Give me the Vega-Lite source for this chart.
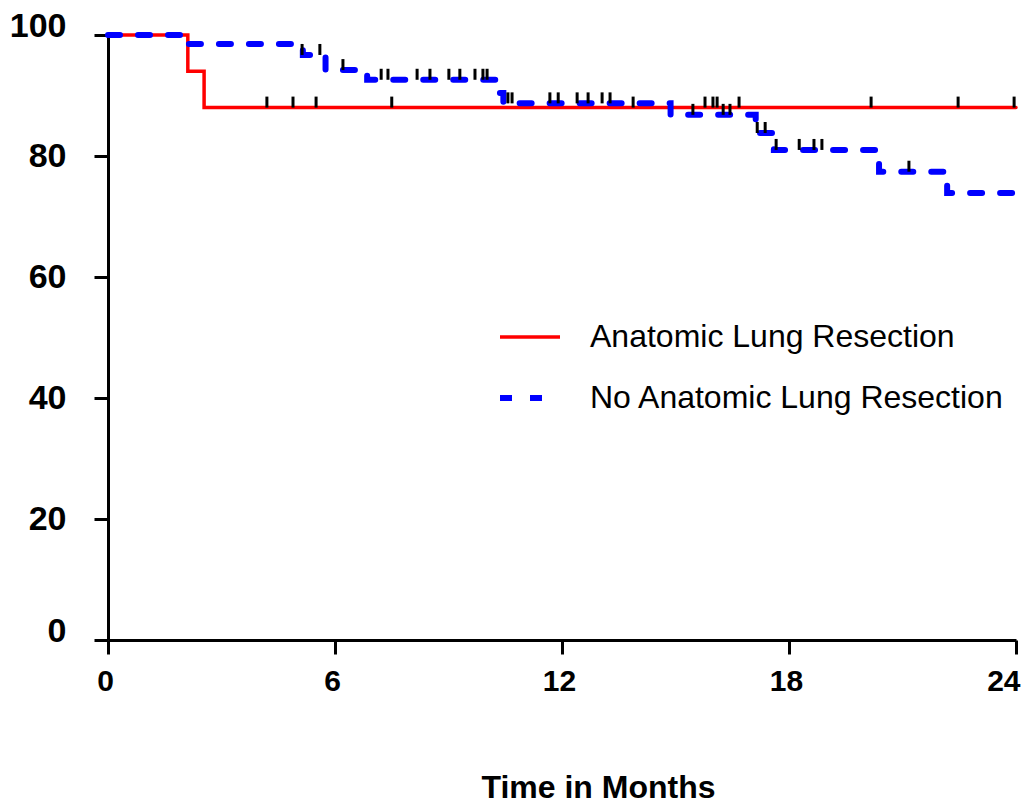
{
  "$schema": "https://vega.github.io/schema/vega-lite/v6.json",
  "autosize": {"type": "none"},
  "padding": {"left": 108, "top": 35, "right": 13, "bottom": 164},
  "width": 908,
  "height": 605,
  "background": "white",
  "config": {
    "view": {"stroke": null},
    "font": "Liberation Sans",
    "axis": {
      "grid": false,
      "domainColor": "black",
      "domainWidth": 3,
      "tickColor": "black",
      "tickWidth": 3,
      "tickSize": 14,
      "labelFont": "Liberation Sans",
      "labelFontWeight": "bold",
      "labelColor": "black",
      "labelFlush": false,
      "titleFont": "Liberation Sans",
      "titleColor": "black"
    },
    "legend": {
      "labelLimit": 0
    }
  },
  "datasets": {
    "curves": [
      {"group": "Anatomic Lung Resection", "month": 0, "survival": 100},
      {"group": "Anatomic Lung Resection", "month": 2.11, "survival": 94.0},
      {"group": "Anatomic Lung Resection", "month": 2.54, "survival": 88.0},
      {"group": "Anatomic Lung Resection", "month": 24, "survival": 88.0},
      {"group": "No Anatomic Lung Resection", "month": 0, "survival": 100},
      {"group": "No Anatomic Lung Resection", "month": 2.11, "survival": 98.5},
      {"group": "No Anatomic Lung Resection", "month": 5.15, "survival": 96.7},
      {"group": "No Anatomic Lung Resection", "month": 5.75, "survival": 94.2},
      {"group": "No Anatomic Lung Resection", "month": 6.85, "survival": 92.6},
      {"group": "No Anatomic Lung Resection", "month": 10.28, "survival": 90.4},
      {"group": "No Anatomic Lung Resection", "month": 10.45, "survival": 88.7},
      {"group": "No Anatomic Lung Resection", "month": 14.87, "survival": 86.8},
      {"group": "No Anatomic Lung Resection", "month": 17.12, "survival": 83.8},
      {"group": "No Anatomic Lung Resection", "month": 17.6, "survival": 81.0},
      {"group": "No Anatomic Lung Resection", "month": 20.38, "survival": 77.4},
      {"group": "No Anatomic Lung Resection", "month": 22.18, "survival": 73.9},
      {"group": "No Anatomic Lung Resection", "month": 24, "survival": 73.9}
    ],
    "censored": [
      {"group": "Anatomic Lung Resection", "month": 4.2, "survival": 88.0},
      {"group": "Anatomic Lung Resection", "month": 4.89, "survival": 88.0},
      {"group": "Anatomic Lung Resection", "month": 5.5, "survival": 88.0},
      {"group": "Anatomic Lung Resection", "month": 7.5, "survival": 88.0},
      {"group": "Anatomic Lung Resection", "month": 13.88, "survival": 88.0},
      {"group": "Anatomic Lung Resection", "month": 15.78, "survival": 88.0},
      {"group": "Anatomic Lung Resection", "month": 15.99, "survival": 88.0},
      {"group": "Anatomic Lung Resection", "month": 16.1, "survival": 88.0},
      {"group": "Anatomic Lung Resection", "month": 16.68, "survival": 88.0},
      {"group": "Anatomic Lung Resection", "month": 20.17, "survival": 88.0},
      {"group": "Anatomic Lung Resection", "month": 22.47, "survival": 88.0},
      {"group": "Anatomic Lung Resection", "month": 23.95, "survival": 88.0},
      {"group": "No Anatomic Lung Resection", "month": 5.13, "survival": 96.7},
      {"group": "No Anatomic Lung Resection", "month": 5.6, "survival": 96.7},
      {"group": "No Anatomic Lung Resection", "month": 6.21, "survival": 94.2},
      {"group": "No Anatomic Lung Resection", "month": 7.22, "survival": 92.6},
      {"group": "No Anatomic Lung Resection", "month": 7.4, "survival": 92.6},
      {"group": "No Anatomic Lung Resection", "month": 8.17, "survival": 92.6},
      {"group": "No Anatomic Lung Resection", "month": 8.51, "survival": 92.6},
      {"group": "No Anatomic Lung Resection", "month": 9.01, "survival": 92.6},
      {"group": "No Anatomic Lung Resection", "month": 9.3, "survival": 92.6},
      {"group": "No Anatomic Lung Resection", "month": 9.7, "survival": 92.6},
      {"group": "No Anatomic Lung Resection", "month": 9.91, "survival": 92.6},
      {"group": "No Anatomic Lung Resection", "month": 10.02, "survival": 92.6},
      {"group": "No Anatomic Lung Resection", "month": 10.57, "survival": 88.7},
      {"group": "No Anatomic Lung Resection", "month": 10.68, "survival": 88.7},
      {"group": "No Anatomic Lung Resection", "month": 11.68, "survival": 88.7},
      {"group": "No Anatomic Lung Resection", "month": 11.9, "survival": 88.7},
      {"group": "No Anatomic Lung Resection", "month": 12.4, "survival": 88.7},
      {"group": "No Anatomic Lung Resection", "month": 12.69, "survival": 88.7},
      {"group": "No Anatomic Lung Resection", "month": 13.06, "survival": 88.7},
      {"group": "No Anatomic Lung Resection", "month": 13.27, "survival": 88.7},
      {"group": "No Anatomic Lung Resection", "month": 15.46, "survival": 86.8},
      {"group": "No Anatomic Lung Resection", "month": 16.26, "survival": 86.8},
      {"group": "No Anatomic Lung Resection", "month": 16.44, "survival": 86.8},
      {"group": "No Anatomic Lung Resection", "month": 17.16, "survival": 83.8},
      {"group": "No Anatomic Lung Resection", "month": 17.37, "survival": 83.8},
      {"group": "No Anatomic Lung Resection", "month": 17.66, "survival": 81.0},
      {"group": "No Anatomic Lung Resection", "month": 18.27, "survival": 81.0},
      {"group": "No Anatomic Lung Resection", "month": 18.66, "survival": 81.0},
      {"group": "No Anatomic Lung Resection", "month": 18.87, "survival": 81.0},
      {"group": "No Anatomic Lung Resection", "month": 21.17, "survival": 77.4}
    ]
  },
  "layer": [
    {
      "data": {"name": "curves"},
      "mark": {"type": "line", "interpolate": "step-after", "strokeCap": "round", "clip": false},
      "encoding": {
        "x": {
          "field": "month", "type": "quantitative",
          "scale": {"domain": [0, 24], "nice": false},
          "axis": {
            "values": [0, 6, 12, 18, 24],
            "labelFontSize": 30,
            "labelPadding": 12,
            "labelAlign": {"condition": {"test": "datum.value == 24", "value": "right"}, "value": "center"},
            "labelOffset": {"condition": {"test": "datum.value == 24", "value": 4}, "value": -3},
            "title": "Time in Months",
            "titleFontSize": 32,
            "titleFontWeight": "bold",
            "titleX": 490,
            "titleY": 157,
            "titleBaseline": "alphabetic"
          }
        },
        "y": {
          "field": "survival", "type": "quantitative",
          "scale": {"domain": [0, 100], "nice": false},
          "axis": {
            "values": [0, 20, 40, 60, 80, 100],
            "labelFontSize": 34,
            "labelPadding": 28,
            "labelOffset": {"condition": {"test": "datum.value == 0 || datum.value == 100", "value": -9}, "value": 0},
            "title": null
          }
        },
        "color": {
          "field": "group", "type": "nominal",
          "scale": {"domain": ["Anatomic Lung Resection", "No Anatomic Lung Resection"], "range": ["#ff0000", "#0000ff"]},
          "legend": {
            "title": null,
            "orient": "none",
            "legendX": 389,
            "legendY": 270,
            "symbolType": "stroke",
            "symbolSize": 3600,
            "symbolStrokeWidth": 5,
            "labelFontSize": 32,
            "labelFont": "Liberation Sans",
            "labelColor": "black",
            "labelLimit": 0,
            "labelOffset": 27,
            "rowPadding": 12,
            "padding": 0
          }
        },
        "strokeDash": {
          "field": "group", "type": "nominal",
          "scale": {"domain": ["Anatomic Lung Resection", "No Anatomic Lung Resection"], "range": [[1, 0], [12, 18]]},
          "legend": {
            "title": null,
            "orient": "none",
            "legendX": 389,
            "legendY": 270,
            "symbolType": "stroke",
            "symbolSize": 3600,
            "symbolStrokeWidth": 5,
            "labelFontSize": 32,
            "labelFont": "Liberation Sans",
            "labelColor": "black",
            "labelLimit": 0,
            "labelOffset": 27,
            "rowPadding": 12,
            "padding": 0
          }
        },
        "strokeWidth": {
          "field": "group", "type": "nominal",
          "scale": {"domain": ["Anatomic Lung Resection", "No Anatomic Lung Resection"], "range": [3.5, 6]},
          "legend": null
        }
      }
    },
    {
      "data": {"name": "censored"},
      "mark": {"type": "tick", "orient": "vertical", "color": "black", "size": 11, "thickness": 3, "yOffset": -5.5, "opacity": 1},
      "encoding": {
        "x": {"field": "month", "type": "quantitative"},
        "y": {"field": "survival", "type": "quantitative"}
      }
    }
  ]
}
